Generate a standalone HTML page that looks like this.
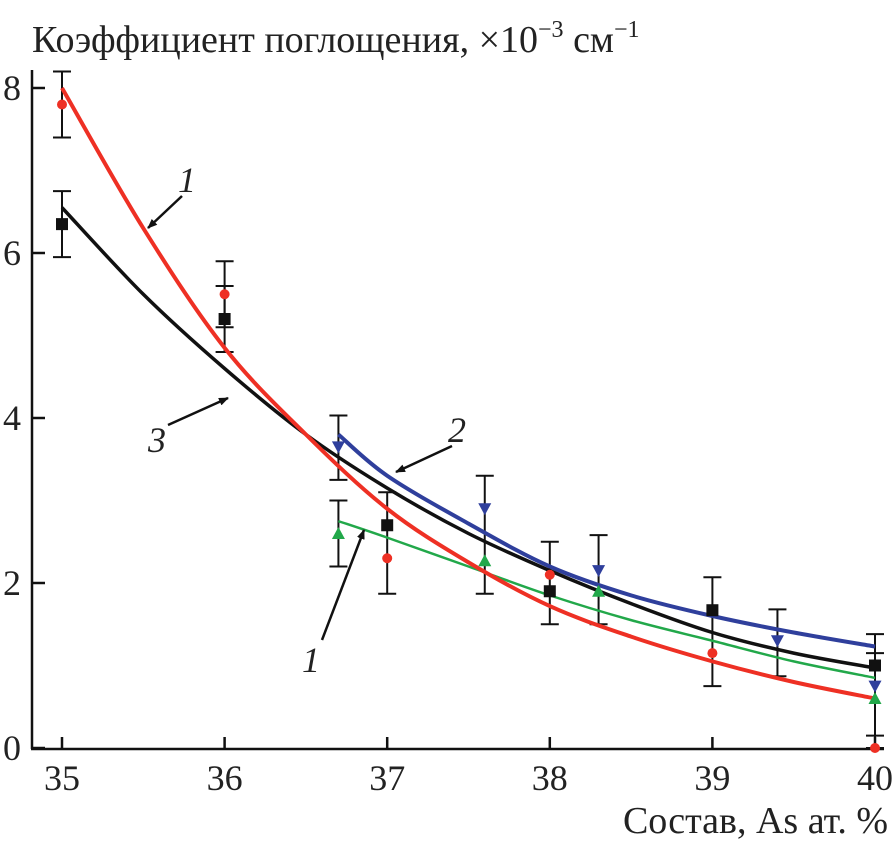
<!DOCTYPE html>
<html><head><meta charset="utf-8"><style>
html,body{margin:0;padding:0;background:#fff;}
svg{display:block;}
text{font-family:"Liberation Serif","DejaVu Serif",serif;}
</style></head><body>
<svg id="chart" width="896" height="843" viewBox="0 0 896 843">
<defs><marker id="ah" markerWidth="10" markerHeight="8" refX="9" refY="4" orient="auto" markerUnits="userSpaceOnUse"><path d="M0,0 L10,4 L0,8 Z" fill="#111"/></marker></defs>
<text x="32" y="52" font-size="38" fill="#222" font-family="Liberation Serif, serif">Коэффициент поглощения, ×10<tspan font-size="24" dy="-15">−3</tspan><tspan dy="15"> см</tspan><tspan font-size="24" dy="-15">−1</tspan></text>
<text x="888" y="833" font-size="38" fill="#222" text-anchor="end">Состав, As ат. %</text>
<g id="axes"></g><g id="marks"></g>
<g font-style="italic" font-size="36" fill="#222">
<text x="178" y="192">1</text>
<line x1="182" y1="196" x2="148" y2="228" stroke="#111" stroke-width="2.5" marker-end="url(#ah)"/>
<text x="148" y="452">3</text>
<line x1="168" y1="425" x2="228" y2="398" stroke="#111" stroke-width="2.5" marker-end="url(#ah)"/>
<text x="448" y="442">2</text>
<line x1="452" y1="446" x2="396" y2="472" stroke="#111" stroke-width="2.5" marker-end="url(#ah)"/>
<text x="302" y="672">1</text>
<line x1="322" y1="640" x2="364" y2="530" stroke="#111" stroke-width="2.5" marker-end="url(#ah)"/>
</g>
</svg>
<script>
const xTicks=[35,36,37,38,39,40];
const yTicks=[0,2,4,6,8];
const redCurveX=[35,35.5,36,36.5,37,37.5,38,38.5,39,39.5,40];
const redCurveY=[8.0,6.3,4.85,3.8,2.9,2.25,1.72,1.35,1.05,0.8,0.6];
const blackCurveX=[35,35.5,36,36.5,37,37.5,38,38.5,39,39.5,40];
const blackCurveY=[6.55,5.5,4.6,3.8,3.15,2.6,2.15,1.75,1.4,1.15,0.97];
const blueCurveX=[36.7,37,37.5,38,38.5,39,39.5,40];
const blueCurveY=[3.8,3.3,2.72,2.2,1.85,1.6,1.4,1.23];
const greenCurveX=[36.7,37,37.5,38,38.5,39,39.5,40];
const greenCurveY=[2.75,2.55,2.2,1.85,1.55,1.3,1.05,0.85];
const redPtsX=[35,36,37,38,39,40];
const redPtsY=[7.8,5.5,2.3,2.1,1.15,0.0];
const blackPtsX=[35,36,37,38,39,40];
const blackPtsY=[6.35,5.2,2.7,1.9,1.67,1.0];
const bluePtsX=[36.7,37.6,38.3,39.4,40];
const bluePtsY=[3.65,2.9,2.15,1.3,0.75];
const greenPtsX=[36.7,37.6,38.3,40];
const greenPtsY=[2.6,2.27,1.9,0.6];
const errX=[35,35,36,36,36.7,36.7,37,37.6,38,38.3,39,39.4,40,40];
const errLo=[7.4,5.95,4.8,5.1,3.25,2.2,1.87,1.87,1.5,1.5,0.75,0.87,0.0,0.15];
const errHi=[8.2,6.75,5.9,5.6,4.03,3.0,3.1,3.3,2.5,2.58,2.07,1.68,1.38,1.15];
const NS='http://www.w3.org/2000/svg';
const X=v=>62+(v-35)*162.6;
const Y=v=>748-v*82.5;
function mk(t,a,p){const e=document.createElementNS(NS,t);for(const k in a)e.setAttribute(k,a[k]);p.appendChild(e);return e;}
const ax=document.getElementById('axes'),mg=document.getElementById('marks');
let l=mk('line',{x1:32,y1:70,x2:32,y2:749,stroke:'#111','stroke-width':2.5},ax);


l=mk('line',{x1:31,y1:749,x2:884,y2:749,stroke:'#111','stroke-width':2.5},ax);


xTicks.forEach(v=>{const t=mk('line',{x1:X(v),y1:749,x2:X(v),y2:737,stroke:'#111','stroke-width':2.5},ax);


const s=mk('text',{x:X(v),y:790,'font-size':36,'text-anchor':'middle',fill:'#222'},ax);s.textContent=v;

});
yTicks.forEach(v=>{const t=mk('line',{x1:32,y1:Y(v),x2:45,y2:Y(v),stroke:'#111','stroke-width':2.5},ax);


const s=mk('text',{x:12,y:Y(v)+12,'font-size':36,'text-anchor':'middle',fill:'#222'},ax);s.textContent=v;

});
function smooth(xs,ys){const p=xs.map((x,i)=>[X(x),Y(ys[i])]);let d='M'+p[0][0]+','+p[0][1];
for(let i=0;i<p.length-1;i++){const p0=p[i-1]||p[i],p1=p[i],p2=p[i+1],p3=p[i+2]||p2;
d+=' C'+(p1[0]+(p2[0]-p0[0])/6)+','+(p1[1]+(p2[1]-p0[1])/6)+' '+(p2[0]-(p3[0]-p1[0])/6)+','+(p2[1]-(p3[1]-p1[1])/6)+' '+p2[0]+','+p2[1];}return d;}
errX.forEach((x,i)=>{const g=mk('g',{stroke:'#111','stroke-width':2},mg);


mk('line',{x1:X(x),y1:Y(errLo[i]),x2:X(x),y2:Y(errHi[i])},g);
mk('line',{x1:X(x)-9,y1:Y(errLo[i]),x2:X(x)+9,y2:Y(errLo[i])},g);
mk('line',{x1:X(x)-9,y1:Y(errHi[i]),x2:X(x)+9,y2:Y(errHi[i])},g);});
[[greenCurveX,greenCurveY,'#22a84a',2.5,'curve-green'],[blueCurveX,blueCurveY,'#2f3f9c',4,'curve-2-blue'],[blackCurveX,blackCurveY,'#111',3.5,'curve-3-black'],[redCurveX,redCurveY,'#ee3024',4,'curve-1-red']].forEach(c=>{
const p=mk('path',{d:smooth(c[0],c[1]),fill:'none',stroke:c[2],'stroke-width':c[3]},mg);

});
redPtsX.forEach((x,i)=>{const e=mk('circle',{cx:X(x),cy:Y(redPtsY[i]),r:5,fill:'#ee3024'},mg);

});
blackPtsX.forEach((x,i)=>{const e=mk('rect',{x:X(x)-6,y:Y(blackPtsY[i])-6,width:12,height:12,fill:'#111'},mg);

});
bluePtsX.forEach((x,i)=>{const cx=X(x),cy=Y(bluePtsY[i]);const e=mk('polygon',{points:(cx-6.5)+','+(cy-5.5)+' '+(cx+6.5)+','+(cy-5.5)+' '+cx+','+(cy+6.5),fill:'#2f3f9c'},mg);

});
greenPtsX.forEach((x,i)=>{const cx=X(x),cy=Y(greenPtsY[i]);const e=mk('polygon',{points:(cx-6.5)+','+(cy+5.5)+' '+(cx+6.5)+','+(cy+5.5)+' '+cx+','+(cy-6.5),fill:'#22a84a'},mg);

});
</script>
</body></html>
